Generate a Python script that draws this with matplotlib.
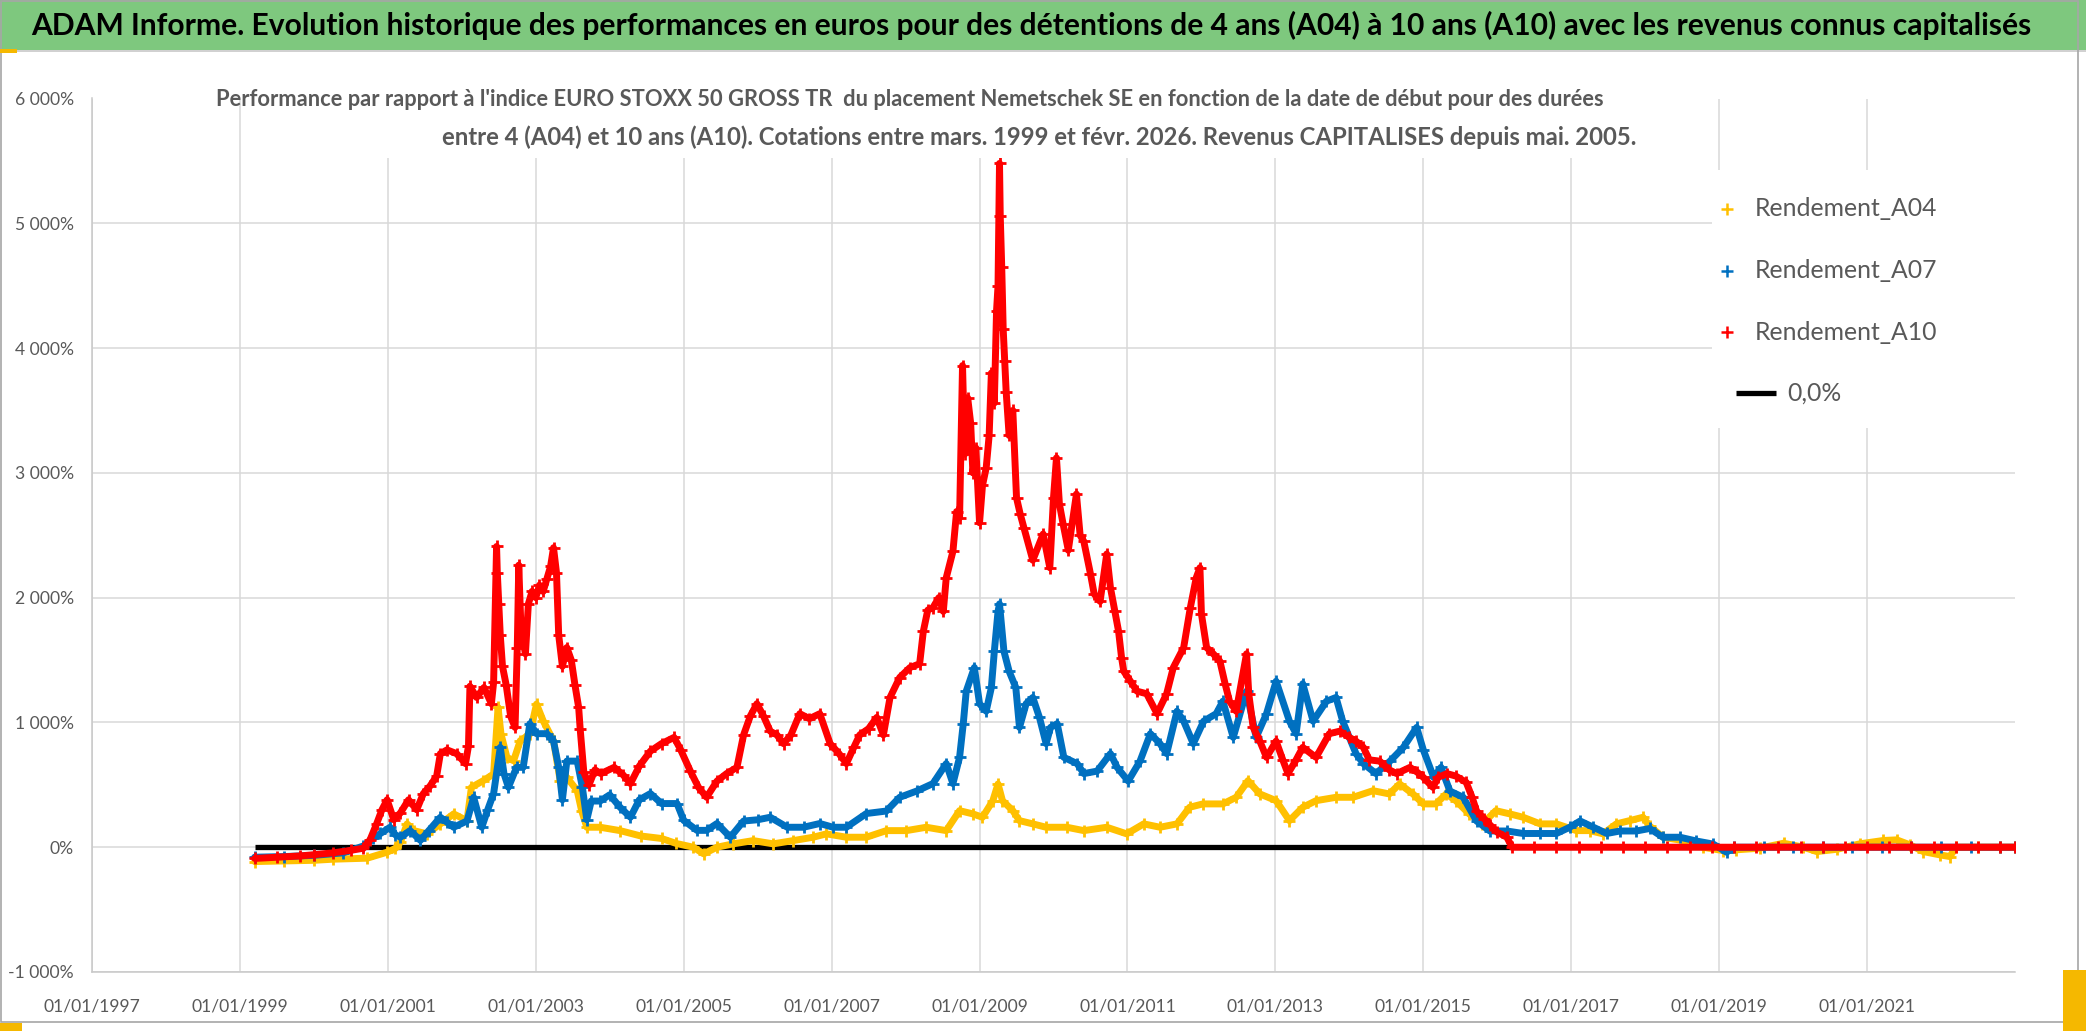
import matplotlib
matplotlib.use("Agg")
import matplotlib.pyplot as plt
from matplotlib.lines import Line2D
from matplotlib.patches import Rectangle

W, H = 2086, 1031

title = ("ADAM Informe. Evolution historique des performances en euros pour des "
         "détentions de 4 ans (A04) à 10 ans (A10) avec les revenus connus capitalisés")
sub1 = ("Performance par rapport à l'indice EURO STOXX 50 GROSS TR  du placement "
        "Nemetschek SE en fonction de la date de début pour des durées")
sub2 = ("entre 4 (A04) et 10 ans (A10). Cotations entre mars. 1999 et févr. 2026. "
        "Revenus CAPITALISES depuis mai. 2005.")

x_ticks = [1997, 1999, 2001, 2003, 2005, 2007, 2009, 2011, 2013, 2015, 2017, 2019, 2021]
x_labels = ["01/01/%d" % y for y in x_ticks]
y_ticks = [-1000, 0, 1000, 2000, 3000, 4000, 5000, 6000]
y_labels = ["-1 000%", "0%", "1 000%", "2 000%", "3 000%", "4 000%", "5 000%", "6 000%"]

legend_names = ["Rendement_A04", "Rendement_A07", "Rendement_A10", "0,0%"]

# start date (decimal year) / performance in %
a04_x = [1999.2, 1999.6, 2000.0, 2000.26, 2000.72, 2000.99, 2001.1, 2001.17, 2001.26, 2001.35,
         2001.53, 2001.71, 2001.89, 2002.07, 2002.13, 2002.29, 2002.43, 2002.49, 2002.53, 2002.61,
         2002.7, 2002.79, 2002.92, 2003.01, 2003.1, 2003.24, 2003.33, 2003.42, 2003.56, 2003.62,
         2003.69, 2003.87, 2004.14, 2004.42, 2004.7, 2004.9, 2005.13, 2005.27, 2005.45, 2005.67,
         2005.94, 2006.21, 2006.48, 2006.75, 2006.93, 2007.2, 2007.47, 2007.74, 2008.01, 2008.28,
         2008.55, 2008.73, 2008.91, 2009.04, 2009.18, 2009.25, 2009.31, 2009.45, 2009.54, 2009.72,
         2009.9, 2010.18, 2010.41, 2010.72, 2010.99, 2011.22, 2011.44, 2011.67, 2011.84, 2012.02,
         2012.29, 2012.47, 2012.63, 2012.79, 2013.01, 2013.19, 2013.37, 2013.55, 2013.82, 2014.05,
         2014.32, 2014.54, 2014.68, 2014.86, 2015.0, 2015.17, 2015.31, 2015.44, 2015.62, 2015.8,
         2015.98, 2016.17, 2016.35, 2016.58, 2016.8, 2017.07, 2017.25, 2017.43, 2017.61, 2017.79,
         2017.97, 2018.06, 2018.24, 2018.51, 2018.78, 2019.05, 2019.23, 2019.55, 2019.87, 2020.14,
         2020.32, 2020.6, 2020.9, 2021.22, 2021.4, 2021.58, 2021.76, 2021.99, 2022.12, 2022.2,
         2022.5, 2022.8, 2023.0]
a04_y = [-115, -110, -105, -96, -88, -40, -10, 40, 187, 133,
         107, 187, 267, 213, 480, 533, 587, 1120, 907, 720,
         693, 853, 907, 1147, 1013, 853, 533, 560, 453, 293,
         160, 160, 133, 90, 70, 30, 0, -53, 0, 27,
         53, 27, 53, 80, 107, 80, 80, 133, 133, 160,
         133, 293, 267, 240, 373, 507, 373, 293, 213, 187,
         160, 160, 133, 160, 107, 187, 160, 187, 320, 347,
         347, 400, 533, 427, 373, 213, 320, 373, 400, 400,
         453, 427, 507, 427, 347, 347, 427, 373, 267, 187,
         293, 267, 240, 187, 187, 133, 133, 107, 187, 213,
         240, 170, 80, 53, 0, -27, -21, -8, 32, 0,
         -35, -16, 27, 54, 59, 19, -35, -62, -75, 0,
         0, 0, 0]

a07_x = [1999.2, 1999.6, 2000.0, 2000.4, 2000.67, 2000.8, 2000.9, 2001.03, 2001.1, 2001.17,
         2001.3, 2001.44, 2001.55, 2001.71, 2001.8, 2001.89, 2002.07, 2002.16, 2002.27, 2002.35,
         2002.43, 2002.52, 2002.57, 2002.63, 2002.74, 2002.83, 2002.92, 2003.01, 2003.15, 2003.24,
         2003.31, 2003.36, 2003.42, 2003.56, 2003.63, 2003.69, 2003.75, 2003.87, 2004.0, 2004.14,
         2004.28, 2004.4, 2004.55, 2004.7, 2004.91, 2005.0, 2005.18, 2005.31, 2005.45, 2005.63,
         2005.81, 2006.0, 2006.17, 2006.4, 2006.62, 2006.84, 2007.02, 2007.2, 2007.47, 2007.74,
         2007.92, 2008.15, 2008.37, 2008.55, 2008.64, 2008.73, 2008.78, 2008.82, 2008.93, 2009.0,
         2009.09, 2009.16, 2009.2, 2009.25, 2009.27, 2009.33, 2009.4, 2009.49, 2009.54, 2009.63,
         2009.72, 2009.81, 2009.9, 2009.96, 2010.05, 2010.14, 2010.32, 2010.41, 2010.59, 2010.77,
         2010.86, 2011.01, 2011.17, 2011.31, 2011.44, 2011.53, 2011.67, 2011.76, 2011.89, 2012.03,
         2012.2, 2012.29, 2012.43, 2012.61, 2012.74, 2012.88, 2013.01, 2013.19, 2013.28, 2013.37,
         2013.51, 2013.69, 2013.82, 2013.91, 2014.09, 2014.19, 2014.36, 2014.55, 2014.73, 2014.91,
         2015.0, 2015.14, 2015.24, 2015.36, 2015.54, 2015.72, 2015.9, 2016.13, 2016.35, 2016.58,
         2016.8, 2016.98, 2017.12, 2017.3, 2017.48, 2017.66, 2017.88, 2018.06, 2018.24, 2018.47,
         2018.69, 2018.92, 2019.1, 2019.2, 2019.6, 2020.0, 2020.4, 2020.8, 2021.2, 2021.6,
         2022.0, 2022.4, 2022.8, 2023.0]
a07_y = [-80, -75, -65, -45, 10, 70, 110, 160, 100, 80,
         133, 55, 130, 240, 200, 160, 210, 400, 160, 300,
         430, 800, 590, 480, 640, 640, 990, 910, 910, 850,
         640, 380, 690, 690, 480, 220, 370, 370, 420, 320,
         240, 380, 430, 350, 350, 215, 135, 135, 190, 80,
         210, 220, 240, 160, 160, 190, 160, 160, 270, 290,
         400, 450, 510, 670, 510, 720, 990, 1250, 1440, 1150,
         1090, 1280, 1570, 1890, 1950, 1570, 1410, 1280, 960, 1150,
         1200, 1040, 830, 960, 990, 720, 670, 590, 610, 750,
         640, 530, 690, 910, 830, 750, 1090, 1010, 830, 1010,
         1070, 1170, 880, 1250, 880, 1070, 1330, 1010, 910, 1310,
         1010, 1170, 1200, 1010, 750, 670, 590, 690, 800, 960,
         780, 560, 640, 450, 400, 210, 130, 130, 110, 110,
         110, 160, 210, 160, 110, 130, 130, 150, 80, 80,
         50, 25, -40, 0, 0, 0, 0, 0, 0, 0,
         0, 0, 0, 0]

a10_x = [1999.2, 1999.5, 1999.81, 2000.0, 2000.26, 2000.5, 2000.67, 2000.76, 2000.85, 2000.92,
         2000.99, 2001.08, 2001.17, 2001.28, 2001.39, 2001.48, 2001.57, 2001.66, 2001.71, 2001.8,
         2001.93, 2002.05, 2002.09, 2002.11, 2002.2, 2002.3, 2002.4, 2002.43, 2002.47, 2002.48,
         2002.5, 2002.52, 2002.55, 2002.6, 2002.66, 2002.72, 2002.75, 2002.77, 2002.8, 2002.86,
         2002.9, 2002.95, 2003.0, 2003.05, 2003.1, 2003.15, 2003.2, 2003.24, 2003.28, 2003.31,
         2003.36, 2003.42, 2003.48, 2003.53, 2003.58, 2003.6, 2003.65, 2003.72, 2003.8, 2003.88,
         2004.06, 2004.18, 2004.28, 2004.4, 2004.55, 2004.7, 2004.87, 2004.96, 2005.09, 2005.2,
         2005.31, 2005.45, 2005.58, 2005.72, 2005.81, 2005.9, 2005.99, 2006.08, 2006.17, 2006.26,
         2006.35, 2006.45, 2006.57, 2006.7, 2006.84, 2006.98, 2007.1, 2007.2, 2007.3, 2007.38,
         2007.5, 2007.61, 2007.7, 2007.79, 2007.92, 2008.06, 2008.19, 2008.24, 2008.3, 2008.37,
         2008.45, 2008.51, 2008.55, 2008.64, 2008.69, 2008.73, 2008.77, 2008.8, 2008.84, 2008.88,
         2008.91, 2008.95, 2009.0, 2009.04, 2009.09, 2009.13, 2009.16, 2009.2, 2009.23, 2009.25,
         2009.27, 2009.28, 2009.3, 2009.32, 2009.34, 2009.36, 2009.4, 2009.45, 2009.5, 2009.55,
         2009.6, 2009.72, 2009.86, 2009.95, 2010.0, 2010.04, 2010.08, 2010.13, 2010.2, 2010.31,
         2010.36, 2010.41, 2010.5, 2010.55, 2010.63, 2010.72, 2010.77, 2010.83, 2010.88, 2010.92,
         2010.95, 2011.04, 2011.13, 2011.26, 2011.4, 2011.53, 2011.62, 2011.76, 2011.85, 2011.93,
         2011.98, 2012.0, 2012.07, 2012.16, 2012.25, 2012.32, 2012.38, 2012.47, 2012.61, 2012.64,
         2012.7, 2012.79, 2012.88, 2013.01, 2013.1, 2013.17, 2013.28, 2013.37, 2013.55, 2013.73,
         2013.87, 2014.0, 2014.09, 2014.19, 2014.27, 2014.41, 2014.54, 2014.64, 2014.82, 2014.92,
         2015.0, 2015.13, 2015.2, 2015.32, 2015.44, 2015.58, 2015.66, 2015.72, 2015.82, 2015.9,
         2016.0, 2016.13, 2016.2, 2016.5, 2016.8, 2017.1, 2017.4, 2017.7, 2018.0, 2018.3,
         2018.6, 2018.9, 2019.2, 2019.5, 2019.8, 2020.1, 2020.4, 2020.7, 2021.0, 2021.3,
         2021.6, 2021.9, 2022.2, 2022.5, 2022.8, 2023.0]
a10_y = [-90, -80, -70, -60, -45, -25, -8, 60, 190, 300,
         380, 220, 275, 380, 300, 430, 490, 570, 750, 780,
         750, 670, 810, 1290, 1200, 1280, 1150, 1320, 2410, 2200,
         1950, 1700, 1450, 1300, 1050, 960, 1600, 2260, 1750, 1550,
         1950, 2050, 2000, 2100, 2050, 2150, 2250, 2400, 2200, 1700,
         1450, 1600, 1500, 1300, 1120, 950, 600, 500, 620, 590,
         640, 580, 510, 650, 770, 830, 880, 780, 610, 480,
         400, 530, 590, 640, 900, 1050, 1150, 1050, 930, 900,
         830, 900, 1070, 1030, 1070, 830, 750, 670, 800, 900,
         950, 1040, 900, 1200, 1360, 1440, 1470, 1730, 1900, 1920,
         2000, 1890, 2160, 2370, 2690, 2640, 3860, 3150, 3600, 3400,
         3000, 3200, 2600, 2900, 3040, 3300, 3800, 3560, 4300, 4500,
         5480, 5060, 4650, 4150, 3900, 3650, 3300, 3500, 2800, 2670,
         2560, 2300, 2510, 2240, 2800, 3120, 2750, 2590, 2380, 2830,
         2500, 2450, 2190, 2030, 1970, 2350, 2080, 1890, 1730, 1520,
         1410, 1330, 1250, 1230, 1070, 1230, 1440, 1600, 1920, 2160,
         2240, 1870, 1600, 1550, 1490, 1310, 1170, 1090, 1550, 1230,
         960, 850, 720, 850, 700, 590, 700, 800, 720, 910,
         930, 880, 850, 800, 700, 690, 620, 590, 640, 600,
         560, 480, 560, 590, 570, 520, 400, 290, 230, 180,
         120, 80, 0, 0, 0, 0, 0, 0, 0, 0,
         0, 0, 0, 0, 0, 0, 0, 0, 0, 0,
         0, 0, 0, 0, 0, 0]

zero_x = [1999.2, 2023.0]
zero_y = [0, 0]

colors = ["#FFC000", "#0070C0", "#FF0000", "#000000"]
grey_txt = "#595959"

plt.rcParams["font.family"] = ["Lato", "DejaVu Sans"]

fig = plt.figure(figsize=(W / 100, H / 100), dpi=100)
fig.patch.set_facecolor("white")
rend = fig.canvas.get_renderer()


def fx(px):
    return px / W


def fy(py):
    return 1 - py / H


def fit(txt, target, **kw):
    t = fig.text(0, 0, txt, fontsize=20, **kw)
    w = t.get_window_extent(renderer=rend).width
    t.remove()
    return 20 * target / w


# frame, title band, little selection marks
fig.add_artist(Rectangle((0, fy(50)), 1, 50 / H, transform=fig.transFigure,
                         facecolor="#7EC87E", edgecolor="none", zorder=1))
fig.add_artist(Line2D([0, 1], [fy(51), fy(51)], transform=fig.transFigure,
                      color="#C8C8C8", lw=1.2, zorder=1))
fig.add_artist(Rectangle((fx(1), fy(1022)), fx(2077), 1021 / H, transform=fig.transFigure,
                         facecolor="none", edgecolor="#A6A6A6", lw=1.2, zorder=1))
for (x0, y0, w0, h0) in [(0, 49, 17, 4), (0, 1023, 22, 8), (2063, 970, 23, 61)]:
    fig.add_artist(Rectangle((fx(x0), fy(y0 + h0)), w0 / W, h0 / H, transform=fig.transFigure,
                             facecolor="#F5B800", edgecolor="none", zorder=2))

fig.text(fx(1031), fy(25), title, ha="center", va="center", weight="bold", color="black",
         fontsize=fit(title, 2002, weight="bold"), zorder=3)

# plot area
ax = fig.add_axes([fx(92), fy(972), (2015 - 92) / W, (972 - 98.5) / H])
ax.set_xlim(1997, 2023.0)
ax.set_ylim(-1000, 6000)
tick_fs = fit("01/01/1997", 97)
ax.set_xticks(x_ticks, x_labels)
ax.set_yticks(y_ticks, y_labels)
ax.tick_params(length=0, labelsize=tick_fs, colors=grey_txt)
ax.tick_params(axis="y", pad=13)
ax.tick_params(axis="x", pad=19)
ax.grid(True, color="#D9D9D9", lw=1.1)
ax.set_axisbelow(True)
for s in ["top", "right"]:
    ax.spines[s].set_visible(False)
for s in ["left", "bottom"]:
    ax.spines[s].set_color("#C8C8C8")
    ax.spines[s].set_linewidth(1.1)

ax.plot(zero_x, zero_y, color=colors[3], lw=3.8, solid_capstyle="butt", zorder=2)
for xs, ys, c, z in [(a04_x, a04_y, colors[0], 3), (a07_x, a07_y, colors[1], 4),
                     (a10_x, a10_y, colors[2], 5)]:
    ax.plot(xs, ys, color=c, lw=5, marker="+", ms=8, mew=2,
            solid_joinstyle="round", solid_capstyle="round", zorder=z)

# subtitle on white background
fig.add_artist(Rectangle((fx(241), fy(158)), (1680 - 241) / W, 80 / H,
                         transform=fig.transFigure, facecolor="white", edgecolor="none", zorder=3))
f1 = fit(sub1, 1319, weight="bold")
f2 = fit(sub2, 1250, weight="bold")
mid = (f1 + f2) / 2
fig.text(fx(910), fy(100), sub1, ha="center", va="center", color=grey_txt,
         weight="bold", fontsize=(f1 + mid) / 2, zorder=4)
fig.text(fx(1039), fy(137), sub2, ha="center", va="center", color=grey_txt,
         weight="bold", fontsize=(f2 + mid) / 2, zorder=4)

# legend
fig.add_artist(Rectangle((fx(1712), fy(428)), (2015 - 1712) / W, (428 - 170) / H,
                         transform=fig.transFigure, facecolor="white", edgecolor="none", zorder=3))
leg_fs = fit("Rendement_A04", 183)
rows = [209, 271, 332, 393]
for i in range(3):
    fig.add_artist(Line2D([fx(1727)], [fy(rows[i])], transform=fig.transFigure, ls="none",
                          marker="+", ms=8, mew=1.8, color=colors[i], zorder=4))
    fig.text(fx(1755), fy(rows[i]), legend_names[i], ha="left", va="center",
             color=grey_txt, fontsize=leg_fs, zorder=4)
fig.add_artist(Line2D([fx(1736), fx(1776)], [fy(rows[3]), fy(rows[3])],
                      transform=fig.transFigure, color=colors[3], lw=3.8,
                      solid_capstyle="butt", zorder=4))
fig.text(fx(1787), fy(rows[3]), legend_names[3], ha="left", va="center",
         color=grey_txt, fontsize=leg_fs, zorder=4)

fig.savefig("out.png", dpi=100)
